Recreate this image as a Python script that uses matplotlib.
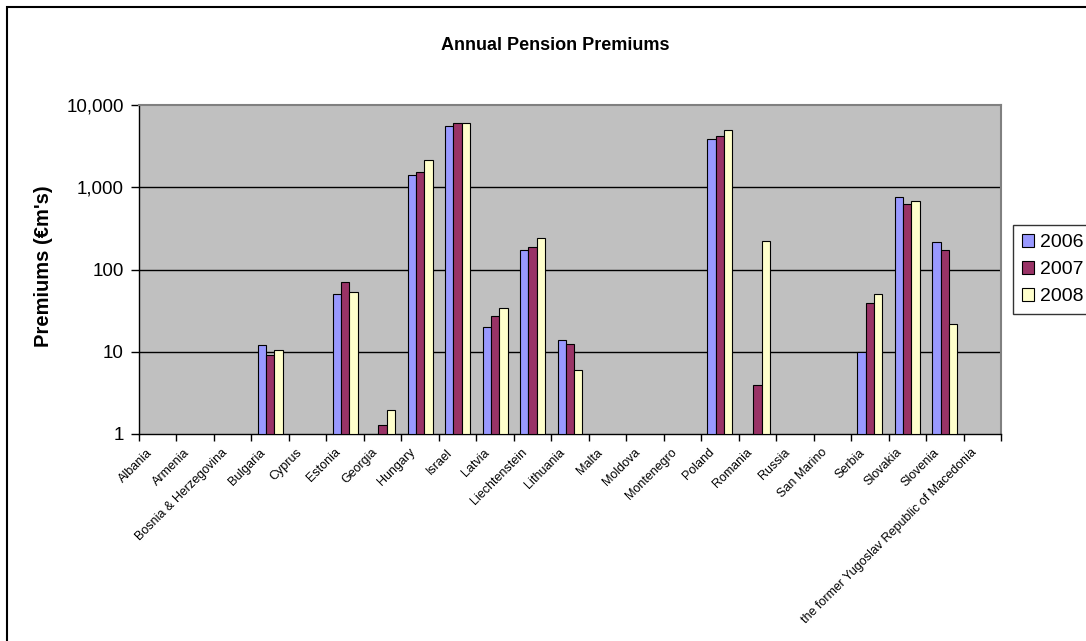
import matplotlib
matplotlib.use("Agg")
import matplotlib.pyplot as plt
import matplotlib.transforms as mtransforms
import numpy as np
from matplotlib.patches import Rectangle
from matplotlib.ticker import FixedLocator, NullLocator

plt.rcParams["font.family"] = ["Liberation Sans", "DejaVu Sans"]

countries = [
    "Albania", "Armenia", "Bosnia & Herzegovina", "Bulgaria", "Cyprus", "Estonia",
    "Georgia", "Hungary", "Israel", "Latvia", "Liechtenstein", "Lithuania", "Malta",
    "Moldova", "Montenegro", "Poland", "Romania", "Russia", "San Marino", "Serbia",
    "Slovakia", "Slovenia", "the former Yugoslav Republic of Macedonia",
]
nan = np.nan
prem_2006 = [nan, nan, nan, 12.0, nan, 50.0, nan, 1400.0, 5600.0, 20.0, 175.0, 13.8, nan,
             nan, nan, 3900.0, nan, nan, nan, 10.0, 770.0, 215.0, nan]
prem_2007 = [nan, nan, nan, 9.1, nan, 70.0, 1.3, 1550.0, 6100.0, 27.5, 190.0, 12.3, nan,
             nan, nan, 4200.0, 3.9, nan, nan, 39.0, 630.0, 175.0, nan]
prem_2008 = [nan, nan, nan, 10.4, nan, 53.0, 1.95, 2150.0, 6100.0, 34.5, 240.0, 6.0, nan,
             nan, nan, 5000.0, 225.0, nan, nan, 50.0, 690.0, 22.0, nan]
years = ["2006", "2007", "2008"]
series = [prem_2006, prem_2007, prem_2008]
colors = ["#9999FF", "#993366", "#FFFFCC"]
y_ticks = [1, 10, 100, 1000, 10000]
y_tick_labels = ["1", "10", "100", "1,000", "10,000"]

W, H = 1086, 641
fig = plt.figure(figsize=(W / 100, H / 100), dpi=100)
fig.patch.set_facecolor("white")

# outer chart border (right/bottom run off the image)
fig.add_artist(Rectangle((7 / W, -0.05), 1.2, 1 - 7 / H + 0.05, transform=fig.transFigure,
                         fill=False, edgecolor="black", linewidth=1.5))

ax = fig.add_axes([139 / W, 1 - 434 / H, (1001 - 139) / W, (434 - 105) / H])
ax.set_facecolor("#C0C0C0")

x = np.arange(len(countries))
bw = 0.222
for i, (vals, col, lab) in enumerate(zip(series, colors, years)):
    v = np.asarray(vals, dtype=float)
    ax.bar(x + (i - 1) * bw, v - 1, bottom=1, width=bw, color=col,
           edgecolor="black", linewidth=0.8, label=lab, zorder=3)

ax.set_yscale("log")
ax.set_ylim(1, 10000)
ax.set_xlim(-0.5, len(countries) - 0.5)
ax.yaxis.set_major_locator(FixedLocator(y_ticks))
ax.yaxis.set_minor_locator(NullLocator())
ax.set_yticklabels(y_tick_labels, fontsize=13.5)
for yv in y_ticks[1:-1]:
    ax.axhline(yv, color="black", linewidth=1.0, zorder=1)

# category boundary ticks
ax.xaxis.set_major_locator(FixedLocator(np.arange(len(countries) + 1) - 0.5))
ax.xaxis.set_minor_locator(FixedLocator(x))
ax.tick_params(axis="x", which="major", length=5, width=1, labelbottom=False, direction="out")
ax.tick_params(axis="x", which="minor", length=0, labelsize=9, pad=12)
ax.set_xticklabels(countries, minor=True, rotation=45, ha="right", va="center",
                   rotation_mode="anchor")
shift = mtransforms.ScaledTranslation(-7 / 100, 0, fig.dpi_scale_trans)
for lbl in ax.get_xticklabels(minor=True):
    lbl.set_transform(lbl.get_transform() + shift)
ax.tick_params(axis="y", length=6, width=1, direction="out", pad=5)

for side in ("top", "right"):
    ax.spines[side].set_color("#808080")
    ax.spines[side].set_linewidth(1.5)
for side in ("left", "bottom"):
    ax.spines[side].set_color("black")
    ax.spines[side].set_linewidth(1.0)

fig.text(555 / W, 1 - 45 / H, "Annual Pension Premiums", ha="center", va="center",
         fontsize=13, fontweight="bold")
fig.text(44 / W, 1 - 266 / H, "Premiums (\u20acm's)", ha="center", va="center",
         rotation=90, fontsize=14.5, fontweight="bold")

leg = fig.legend(loc="upper left", bbox_to_anchor=(1013 / W, 1 - 225 / H), fontsize=14,
                 frameon=True, fancybox=False, edgecolor="black", handlelength=0.65,
                 handleheight=0.65, handletextpad=0.3, borderpad=0.45, labelspacing=0.5,
                 borderaxespad=0)
leg.get_frame().set_linewidth(1.0)

fig.savefig("out.png", dpi=100)
